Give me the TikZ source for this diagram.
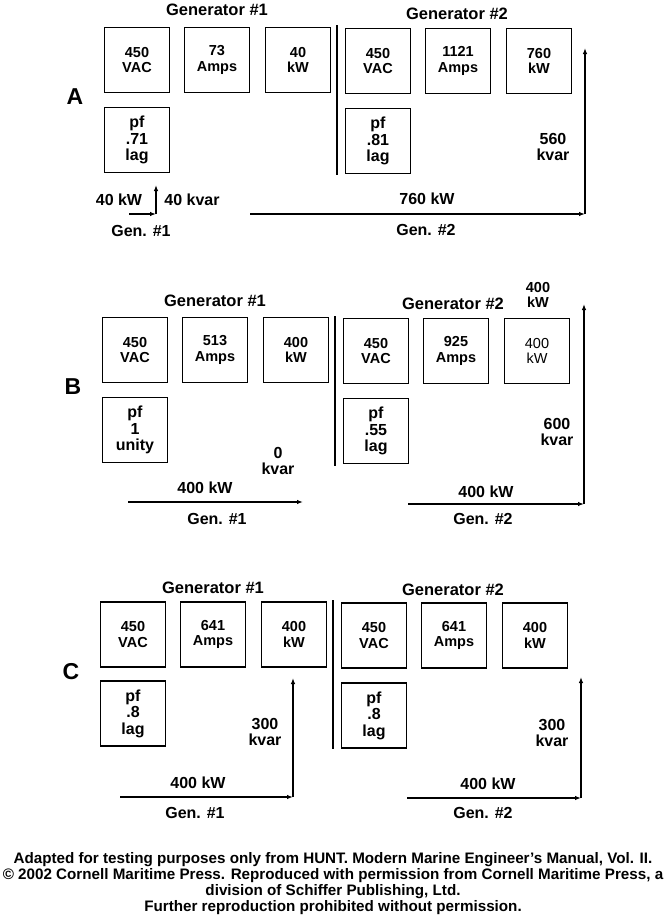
\documentclass[tikz,border=0pt]{standalone}
\usepackage{fontspec}
\setmainfont{Liberation Sans}
\usetikzlibrary{arrows.meta}

\tikzset{
  meter/.style={draw, line width=1.3pt, minimum width=65.5pt, minimum height=65pt, inner sep=0pt, align=center, font=\fontsize{14.5}{15.5}\selectfont\bfseries},
  pfbox/.style={meter, font=\fontsize{16}{16.5}\selectfont\bfseries},
  lbl/.style={align=center, inner sep=0pt, font=\fontsize{16}{16}\selectfont\bfseries},
  small/.style={align=center, inner sep=0pt, font=\fontsize{14.5}{15}\selectfont\bfseries},
  title/.style={inner sep=0pt, font=\fontsize{16.5}{17}\selectfont\bfseries},
  sec/.style={inner sep=0pt, font=\fontsize{23}{23}\selectfont\bfseries},
  bus/.style={line width=2.8pt},
  vec/.style={line width=1.2pt, -{Latex[length=6pt,width=4.5pt]}},
}

\begin{document}
\begin{tikzpicture}[x=1pt,y=-1pt]
\useasboundingbox (0,0) rectangle (666,916);

\begin{scope}[shift={(2,60)}]
    \node[sec] (A) at (73,37) {A};
    \node[title] (a1t) at (215,-50) {Generator \#1};
    \node[title] (a2t) at (455,-46) {Generator \#2};
    \foreach \x/\t [count=\i] in {135/{450\\VAC},215/{73\\Amps},296/{40\\kW}}
        \node[meter] (a1\i) at (\x,0) {\t};
    \foreach \x/\t [count=\i] in {376/{450\\VAC},456/{1121\\Amps},537/{760\\kW}}
        \node[meter] (a2\i) at (\x,1) {\t};
    \node[pfbox] (a1pf) at (135,80) {pf\\.71\\lag};
    \node[pfbox] (a2pf) at (376,81) {pf\\.81\\lag};
    \draw[bus] (335,-35) -- (335,115);
\end{scope}
\coordinate (a1o) at (129,214);
\coordinate (a1c) at (156,214);
\coordinate (a1q) at (156,185);
\draw[vec] (a1o) -- (a1c);
\draw[vec] (a1c) -- (a1q);
\node[lbl] (a1kw) at (119,200) {40 kW};
\node[lbl] (a1kvar) at (192,200) {40 kvar};
\node[lbl] (a1g) at (141,231) {Gen. \#1};
\coordinate (a2o) at (250,214);
\coordinate (a2c) at (585,214);
\coordinate (a2q) at (585,48);
\draw[vec] (a2o) -- (a2c);
\draw[vec] (a2c) -- (a2q);
\node[lbl] (a2kw) at (427,199) {760 kW};
\node[lbl] (a2kvar) at (553,147) {560\\kvar};
\node[lbl] (a2g) at (426,230) {Gen. \#2};

\begin{scope}[shift={(0,350)}]
    \node[sec] (B) at (73,37) {B};
    \node[title] (b1t) at (215,-49) {Generator \#1};
    \node[title] (b2t) at (453,-46) {Generator \#2};
    \foreach \x/\t [count=\i] in {135/{450\\VAC},215/{513\\Amps},296/{400\\kW}}
        \node[meter] (b1\i) at (\x,0) {\t};
    \foreach \x/\t [count=\i] in {376/{450\\VAC},456/{925\\Amps},537/{{\mdseries 400}\\{\mdseries kW}}}
        \node[meter] (b2\i) at (\x,1) {\t};
    \node[pfbox] (b1pf) at (135,80) {pf\\1\\unity};
    \node[pfbox] (b2pf) at (376,81) {pf\\.55\\lag};
    \draw[bus] (335,-34) -- (335,116);
\end{scope}
\coordinate (b1o) at (128,502);
\coordinate (b1c) at (303,502);
\draw[vec] (b1o) -- (b1c);
\node[lbl] (b1kw) at (205,488) {400 kW};
\node[lbl] (b1kvar) at (278,461) {0\\kvar};
\node[lbl] (b1g) at (217,519) {Gen. \#1};
\coordinate (b2o) at (408,504);
\coordinate (b2c) at (584,504);
\coordinate (b2q) at (584,304);
\draw[vec] (b2o) -- (b2c);
\draw[vec] (b2c) -- (b2q);
\node[lbl] (b2kw) at (486,492) {400 kW};
\node[lbl] (b2kvar) at (557,432) {600\\kvar};
\node[small] (b2top) at (538,295) {400\\kW};
\node[lbl] (b2g) at (483,519) {Gen. \#2};

\begin{scope}[shift={(-2,634.5)}]
    \node[sec] (C) at (73,37) {C};
    \node[title] (c1t) at (215,-46.5) {Generator \#1};
    \node[title] (c2t) at (455,-44.5) {Generator \#2};
    \foreach \x/\t [count=\i] in {135/{450\\VAC},215/{641\\Amps},296/{400\\kW}}
        \node[meter] (c1\i) at (\x,0) {\t};
    \foreach \x/\t [count=\i] in {376/{450\\VAC},456/{641\\Amps},537/{400\\kW}}
        \node[meter] (c2\i) at (\x,1) {\t};
    \node[pfbox] (c1pf) at (135,79) {pf\\.8\\lag};
    \node[pfbox] (c2pf) at (376,81) {pf\\.8\\lag};
    \draw[bus] (335,-34.5) -- (335,114.5);
\end{scope}
\coordinate (c1o) at (120,797);
\coordinate (c1c) at (293,797);
\coordinate (c1q) at (293,678);
\draw[vec] (c1o) -- (c1c);
\draw[vec] (c1c) -- (c1q);
\node[lbl] (c1kw) at (198,783) {400 kW};
\node[lbl] (c1kvar) at (265,732) {300\\kvar};
\node[lbl] (c1g) at (195,813) {Gen. \#1};
\coordinate (c2o) at (407,798);
\coordinate (c2c) at (581,798);
\coordinate (c2q) at (581,677);
\draw[vec] (c2o) -- (c2c);
\draw[vec] (c2c) -- (c2q);
\node[lbl] (c2kw) at (488,784) {400 kW};
\node[lbl] (c2kvar) at (552,733) {300\\kvar};
\node[lbl] (c2g) at (483,813) {Gen. \#2};

\node[anchor=north, align=center, inner sep=0pt, font=\fontsize{15.2}{16}\selectfont\bfseries] (note) at (333,852)
    {Adapted for testing purposes only from HUNT. Modern Marine Engineer’s Manual, Vol. II.\\
     © 2002 Cornell Maritime Press. Reproduced with permission from Cornell Maritime Press, a\\
     division of Schiffer Publishing, Ltd.\\
     Further reproduction prohibited without permission.};
\end{tikzpicture}
\end{document}
